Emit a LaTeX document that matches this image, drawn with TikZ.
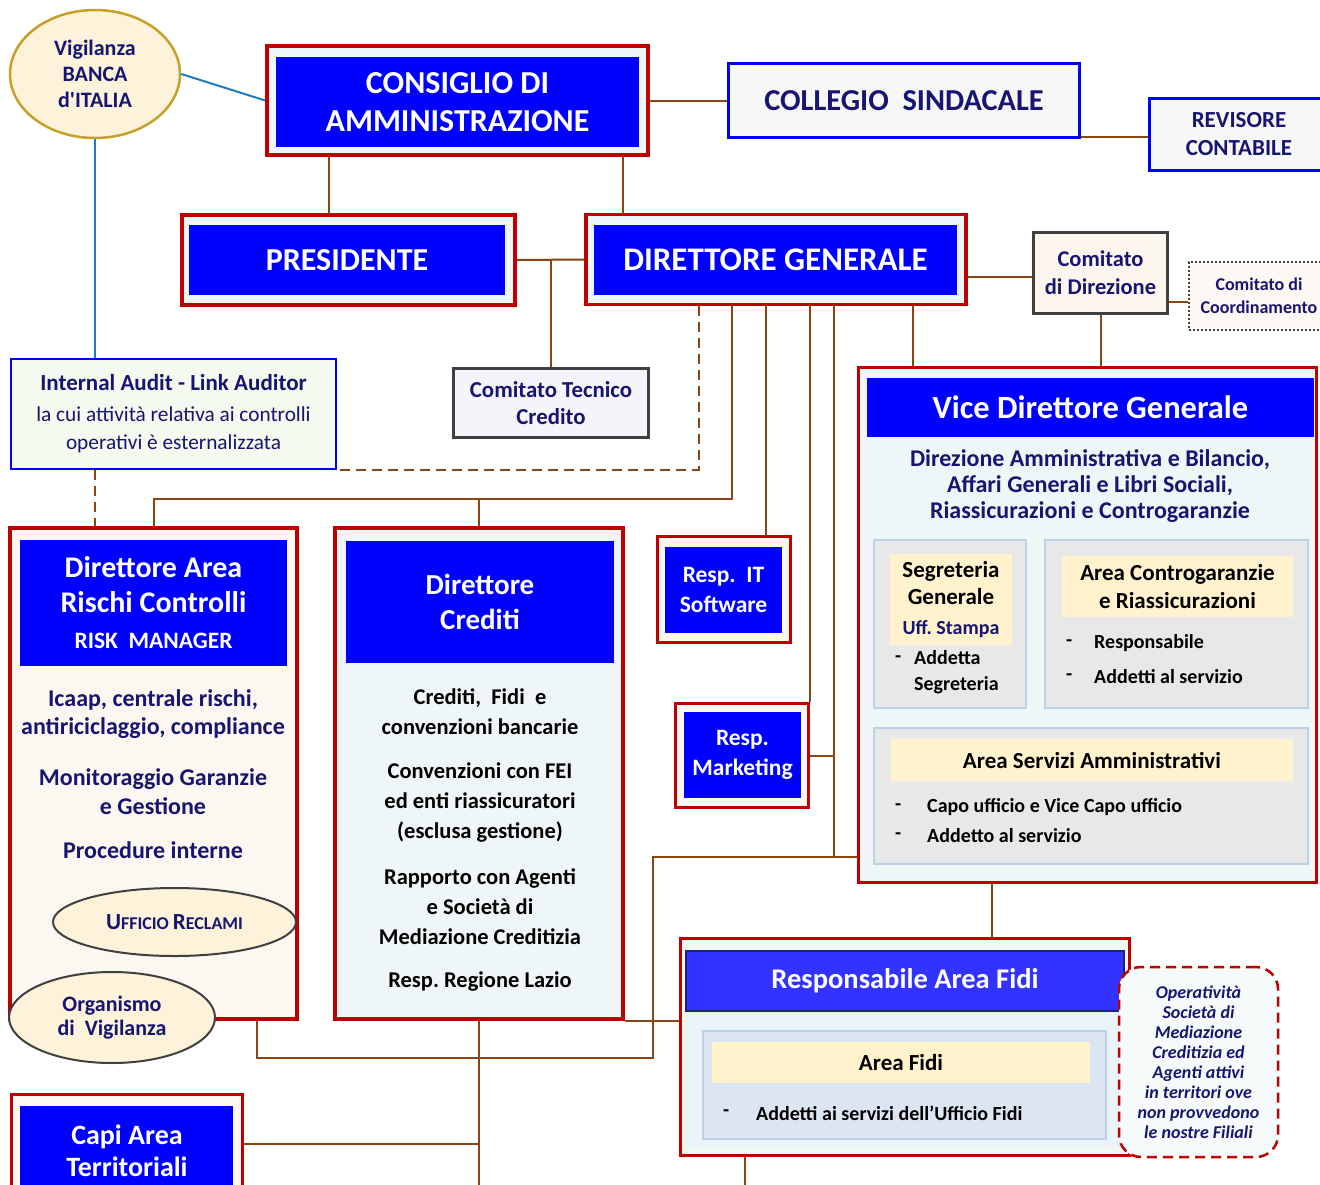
\documentclass[tikz,border=0pt]{standalone}
\usepackage{fontspec}
\setmainfont{Carlito}[Ligatures=TeXOff]
\usetikzlibrary{shapes.geometric}
\definecolor{frame}{RGB}{192,0,0}
\definecolor{royal}{RGB}{0,0,255}
\definecolor{navy}{RGB}{22,22,112}
\definecolor{link}{RGB}{139,69,19}
\definecolor{sky}{RGB}{31,123,192}
\definecolor{paleblue}{RGB}{239,246,248}
\definecolor{palecream}{RGB}{252,247,240}
\definecolor{cream}{RGB}{253,242,218}
\definecolor{gold}{RGB}{200,160,40}
\definecolor{tag}{RGB}{255,242,204}
\definecolor{speckle}{RGB}{232,232,232}
\definecolor{lightline}{RGB}{190,208,232}
\definecolor{darkline}{RGB}{64,64,64}
\definecolor{peach}{RGB}{253,246,238}
\definecolor{peachlight}{RGB}{253,248,243}
\definecolor{lilac}{RGB}{245,244,250}
\definecolor{mint}{RGB}{244,250,239}
\definecolor{palegreen}{RGB}{240,248,240}
\definecolor{iceblue}{RGB}{234,243,248}
\definecolor{midblue}{RGB}{51,51,255}
\definecolor{deepnavy}{RGB}{26,35,126}
\definecolor{steel}{RGB}{220,230,242}
\definecolor{frost}{RGB}{245,250,250}
\newcommand{\setfs}[2]{\fontsize{#1}{#2}\selectfont}
\begin{document}
\frenchspacing
\begin{tikzpicture}[x=1pt,y=-1pt,
    redbox/.style={draw=frame,line width=3.5pt,fill=#1,inner sep=0pt},
    redbox/.default=paleblue,
    sz/.style n args={2}{font=\bfseries\setfs{#1}{#2}},
    bluebar/.style={fill=royal,text=white,align=center,inner sep=0pt},
    linebox/.style={draw=#1,line width=2.5pt,text=navy,align=center,inner sep=0pt},
    oval/.style={ellipse,draw=#1,fill=cream,line width=2pt,text=navy,align=center,inner sep=0pt},
    subbox/.style={draw=lightline,line width=2pt,fill=speckle,inner sep=0pt},
    tagbox/.style={fill=tag,align=center,inner sep=0pt},
    words/.style={align=center,inner sep=0pt},
    item/.style={sz={20}{26},align=left,anchor=west,inner sep=0pt},
    wire/.style={draw=link,line width=2pt},
    skywire/.style={draw=sky,line width=2pt}]
  \useasboundingbox (0,0) rectangle (1320,1184);
  \clip (0,0) rectangle (1320,1184);
  \fill[white] (0,0) rectangle (1320,1184);

  % top level
  \node[oval=gold,line width=2.5pt,sz={22}{26},minimum width=170pt,minimum height=128pt] (vig) at (95,74) {Vigilanza\\BANCA\\d'ITALIA};
  \node[redbox,minimum width=381pt,minimum height=109pt] (cda) at (457.5,100.5) {};
  \node[bluebar,sz={32}{38},minimum width=363pt,minimum height=90pt] (cdaT) at (457.5,102) {CONSIGLIO DI\\AMMINISTRAZIONE};
  \node[linebox=royal,line width=3pt,fill=black!3,sz={30.4}{34},minimum width=351pt,minimum height=74pt] (col) at (904,100.5) {COLLEGIO\ \ SINDACALE};
  \node[linebox=royal,line width=3pt,fill=black!3,sz={23}{28},minimum width=180pt,minimum height=72pt] (rev) at (1239,134.5) {REVISORE\\CONTABILE};

  \node[redbox,minimum width=333pt,minimum height=90pt] (pres) at (348.5,260) {};
  \node[bluebar,sz={32}{38},minimum width=316pt,minimum height=70pt] (presT) at (347,260) {PRESIDENTE};
  \node[redbox,minimum width=380pt,minimum height=90pt] (dg) at (776,259.5) {};
  \node[bluebar,sz={33}{38},minimum width=363pt,minimum height=70pt] (dgT) at (775.5,260) {DIRETTORE GENERALE};

  \node[linebox=darkline,fill=peach,sz={22.5}{28},minimum width=134pt,minimum height=81pt] (comdir) at (1100.5,273) {Comitato\\di Direzione};
  \node[linebox=darkline,line width=2pt,dotted,fill=peachlight,sz={18}{23},minimum width=140pt,minimum height=68pt] (coord) at (1259,296) {Comitato di\\Coordinamento};
  \node[linebox=darkline,fill=lilac,sz={22.8}{27},minimum width=195pt,minimum height=69pt] (comtec) at (551,403) {Comitato Tecnico\\Credito};
  \node[linebox=royal,line width=2pt,fill=mint,sz={23}{28},minimum width=325pt,minimum height=110pt] (ia) at (173.5,413.5)
    {Internal Audit - Link Auditor\\[3pt]\mdseries\setfs{21.3}{26}la cui attività relativa ai controlli\\\mdseries\setfs{21.3}{26}operativi è esternalizzata};

  % vice direttore
  \node[redbox,minimum width=458pt,minimum height=515pt] (vdg) at (1087.5,625) {};
  \node[bluebar,sz={32.5}{36},minimum width=447pt,minimum height=59pt] (vdgT) at (1090.5,407.5) {Vice Direttore Generale};
  \node[words,text=navy,sz={24}{26}] (vdgS) at (1090,486) {Direzione Amministrativa e Bilancio,\\Affari Generali e Libri Sociali,\\Riassicurazioni e Controgaranzie};
  \node[subbox,minimum width=152pt,minimum height=168pt] (seg) at (950,624) {};
  \node[tagbox,sz={23}{27},minimum width=122pt,minimum height=91pt] (segL) at (951,599.5) {Segreteria\\Generale\\[3pt]\color{navy}\setfs{20}{27}Uff. Stampa};
  \node[item] (segD) at (895,659) {-};
  \node[item] (segI) at (914,672) {Addetta\\Segreteria};
  \node[subbox,minimum width=263pt,minimum height=168pt] (acr) at (1176.5,624) {};
  \node[tagbox,sz={23}{28},minimum width=231pt,minimum height=61pt] (acrL) at (1177.5,586.5) {Area Controgaranzie\\e Riassicurazioni};
  \node[item] (acrD1) at (1066,643) {-};
  \node[item] (acrI1) at (1094,643) {Responsabile};
  \node[item] (acrD2) at (1066,677) {-};
  \node[item] (acrI2) at (1094,677) {Addetti al servizio};
  \node[subbox,minimum width=434pt,minimum height=136pt] (asa) at (1091,796) {};
  \node[tagbox,sz={23}{28},minimum width=402pt,minimum height=42pt] (asaL) at (1092,760) {Area Servizi Amministrativi};
  \node[item] (asaD1) at (895,807) {-};
  \node[item] (asaI1) at (927,807) {Capo ufficio e Vice Capo ufficio};
  \node[item] (asaD2) at (895,836) {-};
  \node[item] (asaI2) at (927,836) {Addetto al servizio};

  % rischi e controlli
  \node[redbox=palecream,minimum width=287pt,minimum height=491pt] (da) at (153.5,773.5) {};
  \node[bluebar,sz={30}{35},minimum width=267pt,minimum height=126pt] (daT) at (153.5,603) {Direttore Area\\Rischi Controlli\\[1pt]\setfs{23.5}{35}RISK\ \ MANAGER};
  \node[words,text=navy,sz={24}{28.5}] (da1) at (153,714) {Icaap, centrale rischi,\\antiriciclaggio, compliance};
  \node[words,text=navy,sz={24}{28.5}] (da2) at (153,791.5) {Monitoraggio Garanzie\\e Gestione};
  \node[words,text=navy,sz={24}{28.5}] (da3) at (153,850) {Procedure interne};
  \node[oval=darkline,sz={23}{26},minimum width=243pt,minimum height=68pt] (urc) at (174.5,922)
    {U\setfs{18}{26}FFICIO \setfs{23}{26}R\setfs{18}{26}ECLAMI};
  \node[oval=darkline,sz={22}{24},minimum width=206pt,minimum height=91pt] (org) at (112,1017.5) {Organismo\\di\ \ Vigilanza};

  % crediti
  \node[redbox,minimum width=288pt,minimum height=491pt] (cr) at (479,773.5) {};
  \node[bluebar,sz={29}{35},minimum width=268pt,minimum height=122pt] (crT) at (480,602) {Direttore\\Crediti};
  \node[words,sz={22.5}{30}] (cr1) at (480,712) {Crediti,\ \ Fidi\ \ e\\convenzioni bancarie};
  \node[words,sz={22.5}{30}] (cr2) at (480,802) {Convenzioni con FEI\\ed enti riassicuratori\\(esclusa gestione)};
  \node[words,sz={22.5}{30}] (cr3) at (480,906.5) {Rapporto con Agenti\\e Società di\\Mediazione Creditizia};
  \node[words,sz={22.5}{30}] (cr4) at (480,981) {Resp. Regione Lazio};

  % responsabili
  \node[redbox=palecream,minimum width=133pt,minimum height=106pt] (it) at (724,589.5) {};
  \node[bluebar,sz={23.5}{30},minimum width=117pt,minimum height=86pt] (itT) at (723.5,590) {Resp.\ \ IT\\Software};
  \node[redbox=palecream,minimum width=133pt,minimum height=104pt] (mk) at (742,755.5) {};
  \node[bluebar,sz={23.5}{30},minimum width=117pt,minimum height=86pt] (mkT) at (742.5,755) {Resp.\\Marketing};
  \node[redbox=palecream,minimum width=231pt,minimum height=134pt] (capi) at (127,1161.5) {};
  \node[bluebar,minimum width=213pt,minimum height=134pt] (capiB) at (126.5,1173) {};
  \node[words,text=white,sz={28}{32}] (capT) at (127,1151) {Capi Area\\Territoriali};

  % area fidi
  \node[redbox=palegreen,minimum width=449pt,minimum height=217pt] (raf) at (905,1047) {};
  \node[fill=iceblue,minimum width=438pt,minimum height=136pt,inner sep=0pt] (rafB) at (905,1079) {};
  \node[bluebar,fill=midblue,draw=deepnavy,line width=2pt,sz={28.5}{34},minimum width=438pt,minimum height=60pt] (rafT) at (905,981) {Responsabile Area Fidi};
  \node[subbox,fill=steel,minimum width=403pt,minimum height=108pt] (fidi) at (904.5,1085) {};
  \node[tagbox,sz={23}{28},minimum width=378pt,minimum height=41pt] (fidiL) at (901,1062.5) {Area Fidi};
  \node[item] (fidiD) at (723,1113) {-};
  \node[item] (fidiI) at (756,1113) {Addetti ai servizi dell’Ufficio Fidi};
  \node[draw=frame,line width=2.5pt,dash pattern=on 10pt off 6pt,rounded corners=22pt,fill=frost,
    minimum width=159pt,minimum height=190pt,text=navy,font=\bfseries\itshape\setfs{18}{20},align=center,inner sep=0pt] (note) at (1198.5,1062)
    {Operatività\\Società di\\Mediazione\\Creditizia ed\\Agenti attivi\\in territori ove\\non provvedono\\le nostre Filiali};

  % junctions
  \coordinate (xP) at (329,0);
  \coordinate (xD) at (623,0);
  \coordinate (yR) at (0,137);
  \coordinate (yC) at (0,277);
  \coordinate (yK) at (0,302);
  \coordinate (xA) at (699,0);
  \coordinate (jA) at (732,499);
  \coordinate (xI) at (766,0);
  \coordinate (jM) at (834,857);
  \coordinate (jC) at (653,1058);
  \coordinate (xL) at (257,0);
  \coordinate (xV) at (913,0);
  \coordinate (xF) at (992,0);
  \coordinate (xG) at (745,0);
  \coordinate (yT) at (0,1144);
  \coordinate (yB) at (0,1200);

  % connectors
  \draw[skywire] (vig.east) -- (cda.west);
  \draw[skywire] (vig.south) -- (vig.south |- ia.north);
  \draw[wire] (cda.south -| xP) -- (pres.north -| xP);
  \draw[wire] (cda.south -| xD) -- (dg.north -| xD);
  \draw[wire] (cda.east) -- (col.west);
  \draw[wire] (col.east |- yR) -- (rev.west |- yR);
  \draw[wire] (pres.east) -- (dg.west);
  \draw[wire] (comtec.north |- pres.east) -- (comtec.north);
  \draw[wire] (dg.east |- yC) -- (comdir.west |- yC);
  \draw[wire] (comdir.east |- yK) -- (coord.west |- yK);
  \draw[wire] (comdir.south) -- (comdir.south |- vdg.north);
  \draw[wire,dash pattern=on 10pt off 6pt] (dg.south -| xA) |- (ia.south east);
  \draw[wire,dash pattern=on 10pt off 6pt] (ia.south -| vig.south) -- (da.north -| vig.south);
  \draw[wire] (dg.south -| jA) -- (jA) -| (da.north);
  \draw[wire] (cr.north |- jA) -- (cr.north);
  \draw[wire] (dg.south -| xI) -- (it.north -| xI);
  \draw[wire] (dg.south -| mk.north east) -- (mk.north east);
  \draw[wire] (dg.south -| jM) -- (jM);
  \draw[wire] (mk.east) -- (mk.east -| jM);
  \draw[wire] (vdg.west |- jM) -| (jC) -| (da.south -| xL);
  \draw[wire] (dg.south -| xV) -- (vdg.north -| xV);
  \draw[wire] (cr.south) -- (cr.south |- yB);
  \draw[wire] (capi.east |- yT) -- (cr.south |- yT);
  \draw[wire] (cr.south east) -- (raf.west |- cr.south east);
  \draw[wire] (vdg.south -| xF) -- (raf.north -| xF);
  \draw[wire] (raf.south -| xG) -- (xG |- yB);
\end{tikzpicture}
\end{document}
